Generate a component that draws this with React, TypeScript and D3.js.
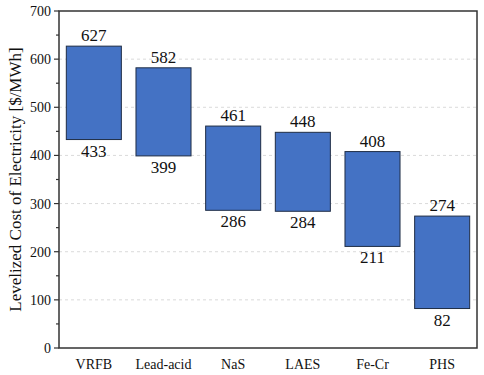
import React from "react";
import * as d3 from "d3";

const categories = ["VRFB", "Lead-acid", "NaS", "LAES", "Fe-Cr", "PHS"];
const highValues = [627, 582, 461, 448, 408, 274];
const lowValues = [433, 399, 286, 284, 211, 82];
const yTicks = [0, 100, 200, 300, 400, 500, 600, 700];

const font = "Liberation Serif";

export default function App() {
  const W = 484, H = 375;
  const m = { left: 59, right: 7, top: 11, bottom: 27 };
  const x = d3.scaleBand().domain(categories).range([m.left, W - m.right]).paddingInner(0.21).paddingOuter(0.105);
  const y = d3.scaleLinear().domain([0, 700]).range([H - m.bottom, m.top]);
  const minor = d3.range(50, 700, 100);
  const ts = { fontFamily: font };
  return (
    <svg width={W} height={H} style={{ position: "absolute", left: 0, top: 0, fontFamily: font }}>
      <rect width={W} height={H} fill="white" />
      {yTicks.slice(1, -1).map((t) => (
        <line key={t} x1={m.left} x2={W - m.right} y1={y(t)} y2={y(t)} stroke="#d0d0d0" strokeDasharray="3,3" strokeWidth={0.8} />
      ))}
      {categories.map((c, i) => (
        <g key={c}>
          <rect x={x(c)} y={y(highValues[i])} width={x.bandwidth()} height={y(lowValues[i]) - y(highValues[i])} fill="#4472C4" stroke="#1f2d45" strokeWidth={1} />
          <text style={ts} x={x(c)! + x.bandwidth() / 2} y={y(highValues[i]) - 5} textAnchor="middle" fontSize={17} fill="#111">{highValues[i]}</text>
          <text style={ts} x={x(c)! + x.bandwidth() / 2} y={y(lowValues[i]) + 17} textAnchor="middle" fontSize={17} fill="#111">{lowValues[i]}</text>
          <text style={ts} x={x(c)! + x.bandwidth() / 2} y={H - 6} textAnchor="middle" fontSize={14} fill="#111">{c}</text>
        </g>
      ))}
      <rect x={m.left} y={m.top} width={W - m.right - m.left} height={H - m.bottom - m.top} fill="none" stroke="#333" strokeWidth={1.5} />
      {yTicks.map((t) => (
        <g key={t}>
          <line x1={m.left - 5} x2={m.left} y1={y(t)} y2={y(t)} stroke="#333" strokeWidth={1.2} />
          <text style={ts} x={m.left - 8} y={y(t) + 5} textAnchor="end" fontSize={14} fill="#111">{t}</text>
        </g>
      ))}
      {minor.map((t) => (
        <line key={t} x1={m.left - 3} x2={m.left} y1={y(t)} y2={y(t)} stroke="#333" strokeWidth={1.2} />
      ))}
      <text style={ts} transform={`translate(21,${(m.top + H - m.bottom) / 2}) rotate(-90)`} textAnchor="middle" fontSize={17} fill="#111">Levelized Cost of Electricity [$/MWh]</text>
    </svg>
  );
}
